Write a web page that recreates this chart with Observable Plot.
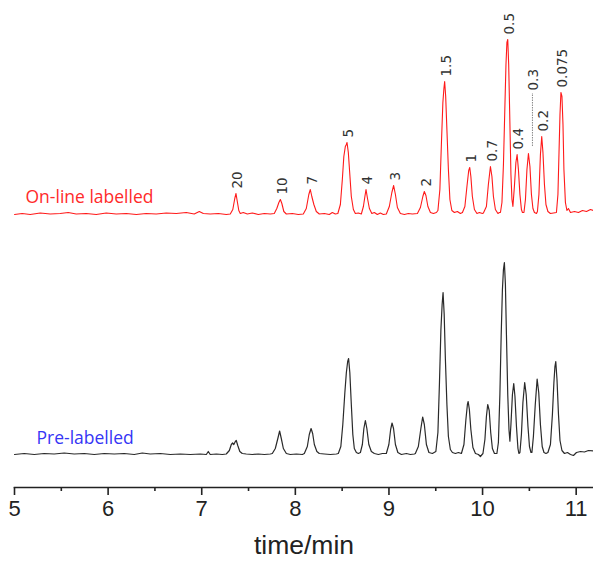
<!DOCTYPE html>
<html>
<head>
<meta charset="utf-8">
<script src="https://cdn.jsdelivr.net/npm/d3@7"></script>
<script src="https://cdn.jsdelivr.net/npm/@observablehq/plot@0.6"></script>
<style>
  html, body { margin: 0; padding: 0; background: #fff; }
  #chart svg { display: block; }
</style>
</head>
<body>
<div id="chart"></div>
<script>
// ---- Data (time in min, signal in arbitrary units above baseline) ----
const redTime = [5.000,5.082,5.168,5.275,5.382,5.488,5.574,5.659,5.766,5.873,5.980,6.087,6.194,6.301,6.407,6.514,6.621,6.728,6.835,6.920,6.974,7.017,7.091,7.177,7.262,
  7.305,7.332,7.353,7.366,7.380,7.396,7.412,7.444,7.487,7.540,7.604,7.669,7.733,
  7.775,7.802,7.824,7.840,7.856,7.877,7.904,7.968,8.032,
  8.085,8.117,8.144,8.160,8.176,8.198,8.224,8.256,8.310,8.363,8.395,8.427,
  8.454,8.481,8.502,8.518,8.534,8.545,8.552,8.566,8.582,8.598,8.620,8.641,8.673,
  8.705,8.727,8.743,8.755,8.769,8.791,8.817,8.844,8.876,8.908,8.940,
  8.972,9.004,9.031,9.050,9.069,9.090,9.122,9.165,9.207,9.250,
  9.304,9.336,9.362,9.378,9.395,9.416,9.443,9.475,9.507,
  9.523,9.544,9.560,9.576,9.587,9.595,9.606,9.619,9.635,9.651,9.672,9.699,9.731,9.763,
  9.785,9.811,9.833,9.852,9.863,9.875,9.891,9.913,9.940,9.966,9.998,
  10.009,10.041,10.062,10.084,10.100,10.116,10.137,10.164,10.180,
  10.191,10.207,10.223,10.239,10.250,10.260,10.269,10.279,10.290,10.303,10.314,
  10.324,10.340,10.356,10.369,10.383,10.399,10.415,10.426,
  10.442,10.458,10.474,10.490,10.506,10.522,10.538,10.554,10.576,
  10.586,10.602,10.618,10.632,10.645,10.661,10.677,10.698,10.725,10.757,
  10.789,10.805,10.816,10.827,10.837,10.848,10.859,10.869,10.885,10.901,10.917,10.939,10.982,11.024,11.067,11.110,11.153,11.185];
const redSignal = [0,1,0,1.5,0.5,1,2,0.5,1,0,1.5,0.5,1,0,1,0.5,1.5,1,2,0.5,3,1,0.5,1,0,
  0.5,5,16,21,13,4,1,2,0.5,1.5,0,1,0.5,
  1,6,12,15,11,3,0.5,1,0,
  0.5,6,20,25,18,10,3,0.5,1,0,2,0.5,
  1,10,35,58,68,70,72,62,40,18,5,1,1.5,
  0.5,8,18,25,17,6,1,2,0,1.5,0,
  0.5,8,22,29,20,7,1,0,1,0.5,
  1,7,18,23,19,8,2,1,2,
  4,25,70,112,126,133,118,85,45,15,4,2,3,1,
  2,8,28,44,47,38,18,5,1,2,1,
  1.5,8,30,48,38,18,5,1,2,
  2,12,50,110,150,172,175,150,100,40,15,
  8,28,52,60,45,20,5,2,
  2,15,45,61,48,20,6,2,1,
  3,20,60,78,62,30,10,3,1,1.5,
  2,20,60,100,122,118,90,45,12,4,6,2,3,2,4,3,5,4];

const blackTime = [5.000,5.104,5.211,5.317,5.424,5.531,5.638,5.745,5.852,5.959,6.066,6.172,6.279,6.365,6.450,6.557,6.664,6.771,6.878,6.985,7.049,7.070,7.091,7.156,7.220,
  7.262,7.295,7.316,7.330,7.343,7.359,7.369,7.385,7.407,7.433,7.476,7.540,7.604,7.669,7.733,
  7.754,7.786,7.813,7.832,7.850,7.872,7.904,7.946,8.011,8.075,
  8.096,8.128,8.149,8.168,8.185,8.203,8.230,8.256,8.310,8.374,8.438,
  8.459,8.486,8.507,8.529,8.545,8.559,8.569,8.582,8.598,8.614,8.630,8.652,8.673,
  8.695,8.716,8.732,8.748,8.764,8.785,8.812,8.844,8.887,8.930,
  8.972,8.999,9.018,9.033,9.049,9.069,9.095,9.133,9.186,9.229,9.272,
  9.282,9.314,9.341,9.360,9.378,9.400,9.427,9.464,
  9.501,9.523,9.539,9.555,9.568,9.578,9.590,9.603,9.619,9.635,9.656,9.678,9.710,9.742,
  9.774,9.801,9.822,9.838,9.846,9.859,9.875,9.897,9.924,9.956,9.977,
  10.004,10.025,10.041,10.055,10.071,10.087,10.105,10.127,
  10.153,10.169,10.185,10.199,10.212,10.223,10.233,10.244,10.255,10.269,10.282,
  10.292,10.303,10.319,10.333,10.346,10.362,10.378,10.388,
  10.399,10.415,10.431,10.450,10.466,10.485,10.501,10.517,
  10.527,10.543,10.563,10.583,10.600,10.618,10.637,10.656,10.677,
  10.698,10.725,10.746,10.762,10.773,10.782,10.795,10.811,10.827,10.848,10.875,10.907,10.939,10.971,11.003,11.046,11.088,11.131,11.185];
const blackSignal = [0,1,0,1,0.5,1.5,0.5,1,0,1,0.5,1,0,1.5,0.5,1,0,0.5,0,0.5,0,3,0,0.5,0,
  0.5,4,10,11.5,10,13,14,9,3,1,0.5,0,0.5,0,0.5,
  1,6,16,23.5,16,6,1,0,0.5,0,
  1,8,20,26,21,10,3,1,0.5,0,0.5,
  1,8,30,62,82,93,96,82,50,20,6,2,1,
  2,10,26,34,26,10,3,1,0,1,
  1,10,25,31.5,26,10,2,0,1,0,0.5,
  1,8,26,37.5,30,10,2,1,
  3,22,70,125,150,162,140,95,50,18,5,2,1,2,
  1,10,35,50,53,45,25,7,1,0,-2,
  1,15,38,50,44,22,6,1,
  1,12,60,120,165,185,192,170,120,60,25,
  13.3,30,60,71,58,28,6,1,
  2,20,52,72,60,28,8,2,
  2,18,50,75.5,62,30,8,2,1,
  2,10,40,72,88,93,75,40,14,4,1,2,0,-1,2,3,2.5,4,3.5];

const peakLabels  = ["20","10","7","5","4","3","2","1.5","1","0.7","0.5","0.4","0.3","0.2","0.075"];
const peakTimes   = [7.366,7.840,8.160,8.552,8.755,9.050,9.378,9.595,9.863,10.084,10.269,10.369,10.490,10.632,10.837];
const peakHeights = [21,15,25,72,25,29,23,133,47,48,175,60,61,78,122];
const liftedLabel = "0.3";   // label moved up with a dotted leader

const xTicks = [5,6,7,8,9,10,11];
const xMinorTicks = [5.5,6.5,7.5,8.5,9.5,10.5];
const seriesNames = ["On-line labelled","Pre-labelled"];
const xTitle = "time/min";

// ---- Layout of the stacked traces ----
const redOffset = 273, blackOffset = 33;   // vertical stacking of the two runs
const red = redTime.map((t,i)=>({t, v: redSignal[i] + redOffset}));
const black = blackTime.map((t,i)=>({t, v: blackSignal[i] + blackOffset}));
const labels = peakLabels.map((l,i)=>({l, t: peakTimes[i], v: peakHeights[i] + redOffset}));
const normalLabels = labels.filter(d=>d.l !== liftedLabel);
const lifted = labels.filter(d=>d.l === liftedLabel);

const chart = Plot.plot({
  width: 593,
  height: 567,
  marginLeft: 14,
  marginRight: 0,
  marginTop: 0,
  marginBottom: 80,
  x: {domain: [5, 11.185], axis: null, label: null},
  y: {domain: [0, 487], axis: null, label: null},
  style: {fontFamily: "Liberation Sans, Arial, sans-serif", color: "#222", background: "#fff"},
  marks: [
    Plot.line(black, {x: "t", y: "v", stroke: "#2a2a2a", strokeWidth: 1.2}),
    Plot.line(red, {x: "t", y: "v", stroke: "#ff1a1a", strokeWidth: 1.1}),
    Plot.text(normalLabels, {x: "t", y: "v", text: "l", rotate: -90, textAnchor: "start", dy: -5, dx: 2,
      fontSize: 13.5, fontFamily: "DejaVu Sans", fill: "#333"}),
    Plot.text(lifted, {x: "t", y: "v", text: "l", rotate: -90, textAnchor: "start", dy: -63, dx: 5,
      fontSize: 13.5, fontFamily: "DejaVu Sans", fill: "#333"}),
    Plot.ruleX(lifted, {x: "t", y1: d => d.v + 7, y2: d => d.v + 60, dx: 4,
      stroke: "#888", strokeWidth: 1, strokeDasharray: "1.5,1"}),
    Plot.text([seriesNames[0]], {frameAnchor: "top-left", dx: 11, dy: 197, textAnchor: "start", lineAnchor: "middle",
      fontSize: 17.5, fontFamily: "Open Sans", fill: "#ff2a2a"}),
    Plot.text([seriesNames[1]], {frameAnchor: "top-left", dx: 22, dy: 438, textAnchor: "start", lineAnchor: "middle",
      fontSize: 17.5, fontFamily: "Open Sans", fill: "#3535f5"}),
    Plot.frame({anchor: "bottom", stroke: "#222", strokeWidth: 1.6}),
    Plot.axisX({ticks: xTicks, tickSize: 8, tickPadding: 5, fontSize: 22, strokeWidth: 1.6, stroke: "#222",
      tickFormat: d3.format("d"), label: null}),
    Plot.axisX({ticks: xMinorTicks, tickSize: 4, tickFormat: () => "", strokeWidth: 1.6, stroke: "#222", label: null}),
    Plot.text([xTitle], {frameAnchor: "bottom", dy: 66, fontSize: 26.5, fill: "#222"})
  ]
});
document.getElementById("chart").appendChild(chart);
</script>
</body>
</html>
